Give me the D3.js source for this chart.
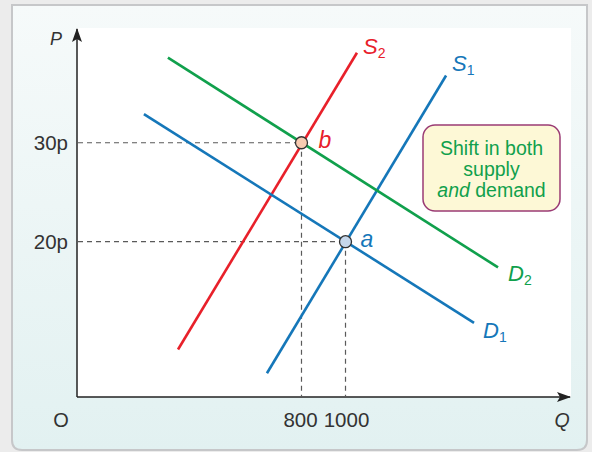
<!DOCTYPE html>
<html>
<head>
<meta charset="utf-8">
<script src="https://cdn.jsdelivr.net/npm/d3@7"></script>
<style>
  html, body { margin: 0; padding: 0; background: #ececec; }
  svg { display: block; font-family: 'Liberation Sans', Arial, sans-serif; }
</style>
</head>
<body>
<div id="chart"></div>
<script>
// Chart data (quantity Q, price P in pence)
const supply1 = [{ q: 643, p: 6.7 }, { q: 1457, p: 36.8 }];
const supply2 = [{ q: 239, p: 9.1 }, { q: 1052, p: 39.1 }];
const demand1 = [{ q: 84, p: 32.9 }, { q: 1584, p: 11.8 }];
const demand2 = [{ q: 193, p: 38.6 }, { q: 1693, p: 17.4 }];
const equilibria = [
  { name: 'a', q: 1000, p: 20 },
  { name: 'b', q: 800, p: 30 }
];
const priceTicks = [20, 30];
const priceTickLabels = ['20p', '30p'];
const quantityTicks = [800, 1000];
const quantityTickLabels = ['800', '1000'];

const W = 592, H = 452;
const colors = {
  blue: '#1577b9',
  red: '#e8202a',
  green: '#10a04c',
  axis: '#222',
  text: '#333',
  dash: '#5a5a5a'
};

const svg = d3.select('#chart').append('svg')
  .attr('width', W)
  .attr('height', H);

// Panel background
const defs = svg.append('defs');
const grad = defs.append('linearGradient')
  .attr('id', 'panelGrad')
  .attr('x1', 0).attr('y1', 0).attr('x2', 0).attr('y2', 1);
grad.append('stop').attr('offset', '0%').attr('stop-color', '#f6fafa');
grad.append('stop').attr('offset', '100%').attr('stop-color', '#e2f1f1');

const marker = defs.append('marker')
  .attr('id', 'arrow')
  .attr('viewBox', '0 0 14 10')
  .attr('refX', 13).attr('refY', 5)
  .attr('markerUnits', 'userSpaceOnUse')
  .attr('markerWidth', 14).attr('markerHeight', 10)
  .attr('orient', 'auto');
marker.append('path')
  .attr('d', 'M0,0 L14,5 L0,10 L3,5 Z')
  .attr('fill', colors.axis);

// Panel with rounded bottom corners
const px0 = 12, py0 = 5, px1 = 587, py1 = 450, r = 10;
svg.append('path')
  .attr('d', `M${px0},${py0} H${px1} V${py1 - r} Q${px1},${py1} ${px1 - r},${py1} H${px0 + r} Q${px0},${py1} ${px0},${py1 - r} Z`)
  .attr('fill', 'url(#panelGrad)')
  .attr('stroke', '#c6c7c9')
  .attr('stroke-width', 2);

// Scales
const x = d3.scaleLinear().domain([-220, 2020]).range([77, 570]);
const y = d3.scaleLinear().domain([4.3, 41.5]).range([397, 29]);

// White plot area
svg.append('rect')
  .attr('x', x(-220))
  .attr('y', 28)
  .attr('width', 571 - x(-220))
  .attr('height', y(4.3) - 28)
  .attr('fill', '#fff');

// Axes
svg.append('line')
  .attr('x1', x(-220)).attr('y1', y(4.3))
  .attr('x2', x(-220)).attr('y2', y(41.5))
  .attr('stroke', colors.axis).attr('stroke-width', 1.5)
  .attr('marker-end', 'url(#arrow)');
svg.append('line')
  .attr('x1', x(-220)).attr('y1', y(4.3))
  .attr('x2', x(2020)).attr('y2', y(4.3))
  .attr('stroke', colors.axis).attr('stroke-width', 1.5)
  .attr('marker-end', 'url(#arrow)');

// Axis labels
svg.append('text')
  .attr('x', 56).attr('y', 45)
  .attr('text-anchor', 'middle')
  .attr('font-size', 18).attr('font-style', 'italic')
  .attr('fill', colors.text)
  .text('P');
svg.append('text')
  .attr('x', 562).attr('y', 427)
  .attr('text-anchor', 'middle')
  .attr('font-size', 19.5).attr('font-style', 'italic')
  .attr('fill', colors.text)
  .text('Q');
svg.append('text')
  .attr('x', 61).attr('y', 427)
  .attr('text-anchor', 'middle')
  .attr('font-size', 20)
  .attr('fill', colors.text)
  .text('O');

// Dashed guide lines
const guides = svg.append('g')
  .attr('stroke', colors.dash)
  .attr('stroke-width', 1.2)
  .attr('stroke-dasharray', '5,4')
  .attr('fill', 'none');
equilibria.forEach(d => {
  guides.append('line')
    .attr('x1', x(-220) + 1).attr('y1', y(d.p))
    .attr('x2', x(d.q)).attr('y2', y(d.p));
  guides.append('line')
    .attr('x1', x(d.q)).attr('y1', y(d.p))
    .attr('x2', x(d.q)).attr('y2', y(4.3));
});

// Tick labels
svg.selectAll('.ptick')
  .data(priceTicks)
  .enter().append('text')
  .attr('class', 'ptick')
  .attr('x', 68)
  .attr('y', d => y(d) + 7)
  .attr('text-anchor', 'end')
  .attr('font-size', 20.5)
  .attr('fill', colors.text)
  .text((d, i) => priceTickLabels[i]);

svg.selectAll('.qtick')
  .data(quantityTicks)
  .enter().append('text')
  .attr('class', 'qtick')
  .attr('x', (d, i) => x(d) + (i === 1 ? 1 : -1))
  .attr('y', 427)
  .attr('text-anchor', 'middle')
  .attr('font-size', 20.5)
  .attr('fill', colors.text)
  .text((d, i) => quantityTickLabels[i]);

// Supply and demand lines
const line = d3.line().x(d => x(d.q)).y(d => y(d.p));
const curves = [
  { data: supply1, color: colors.blue, label: 'S', sub: '1', dx: 6, dy: -4 },
  { data: supply2, color: colors.red, label: 'S', sub: '2', dx: 6, dy: 1 },
  { data: demand1, color: colors.blue, label: 'D', sub: '1', dx: 9, dy: 15 },
  { data: demand2, color: colors.green, label: 'D', sub: '2', dx: 10, dy: 14 }
];

curves.forEach(c => {
  svg.append('path')
    .datum(c.data)
    .attr('d', line)
    .attr('fill', 'none')
    .attr('stroke', c.color)
    .attr('stroke-width', 2.6);

  const end = c.data[c.data.length - 1];
  const t = svg.append('text')
    .attr('x', x(end.q) + c.dx)
    .attr('y', y(end.p) + c.dy)
    .attr('fill', c.color)
    .attr('font-size', 22)
    .attr('font-style', 'italic');
  t.append('tspan').text(c.label);
  t.append('tspan')
    .attr('font-size', 14)
    .attr('font-style', 'normal')
    .attr('dx', 0)
    .attr('dy', 4)
    .text(c.sub);
});

// Equilibrium points
const pointFill = { a: '#c6d7eb', b: '#f8cbb1' };
const pointColor = { a: colors.blue, b: colors.red };
svg.selectAll('.eq')
  .data(equilibria)
  .enter().append('circle')
  .attr('class', 'eq')
  .attr('cx', d => x(d.q))
  .attr('cy', d => y(d.p))
  .attr('r', 6)
  .attr('fill', d => pointFill[d.name])
  .attr('stroke', '#333')
  .attr('stroke-width', 1.3);

svg.selectAll('.eqlabel')
  .data(equilibria)
  .enter().append('text')
  .attr('class', 'eqlabel')
  .attr('x', d => x(d.q) + (d.name === 'a' ? 15 : 17))
  .attr('y', d => y(d.p) + 5)
  .attr('font-size', 23)
  .attr('font-style', 'italic')
  .attr('fill', d => pointColor[d.name])
  .text(d => d.name);

// Annotation box
const box = svg.append('g').attr('transform', 'translate(423,125)');
box.append('rect')
  .attr('width', 137).attr('height', 86)
  .attr('rx', 12).attr('ry', 12)
  .attr('fill', '#fdf8d6')
  .attr('stroke', '#9a3b74')
  .attr('stroke-width', 1.5);
const boxText = box.append('text')
  .attr('text-anchor', 'middle')
  .attr('font-size', 19.5)
  .attr('fill', colors.green);
boxText.append('tspan').attr('x', 68.5).attr('y', 30).text('Shift in both');
boxText.append('tspan').attr('x', 68.5).attr('y', 51).text('supply');
const l3 = boxText.append('tspan').attr('x', 68.5).attr('y', 72);
l3.append('tspan').attr('font-style', 'italic').text('and');
l3.append('tspan').text(' demand');
</script>
</body>
</html>
